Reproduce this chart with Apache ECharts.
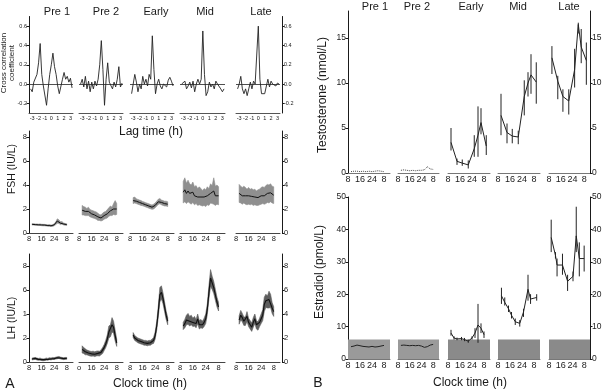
<!DOCTYPE html>
<html><head><meta charset="utf-8">
<script src="https://cdn.jsdelivr.net/npm/echarts@6/dist/echarts.min.js"></script>
<style>html,body{margin:0;padding:0;background:#fff}#c{width:605px;height:392px}</style>
</head><body><div id="c"></div>
<script>
// ---------------- DATA ----------------
const PHASES = ['Pre 1','Pre 2','Early','Mid','Late'];
const LAGS = [-3.25,-3,-2.75,-2.5,-2.25,-2,-1.75,-1.5,-1.25,-1,-0.75,-0.5,-0.25,0,0.25,0.5,0.75,1,1.25,1.5,1.75,2,2.25,2.5,2.75,3,3.25];
const LAG_TICKS = [-3,-2,-1,0,1,2,3];
const LAG_LABELS = ['-3','-2','-1','0','1','2','3'];
const CC_PRE1  = [-0.05,-0.08,0.02,0.03,0.1,0.22,0.42,0.1,-0.02,-0.04,-0.22,-0.05,0.1,0.2,0.32,0.18,0.1,-0.02,-0.1,-0.08,0.05,0.12,0.05,0.08,0.02,0.06,-0.04];
const CC_PRE2  = [0.0,0.05,-0.03,0.08,-0.05,0.03,-0.08,0.02,-0.05,0.03,-0.02,0.05,0.2,0.45,0.15,-0.22,0.05,0.22,0.02,0.0,-0.05,0.02,-0.03,0.05,0.18,-0.03,0.01];
const CC_EARLY = [-0.1,0.0,0.1,0.02,-0.08,0.0,-0.05,0.08,0.0,0.05,-0.02,0.1,0.05,0.5,0.15,-0.1,0.0,0.05,-0.02,-0.05,0.0,0.02,-0.03,0.04,0.07,0.03,-0.02];
const CC_MID   = [0.0,-0.02,0.03,-0.05,-0.02,0.02,-0.04,0.03,-0.08,0.0,0.05,0.0,0.05,0.55,0.1,-0.12,-0.08,0.02,-0.03,0.0,-0.05,0.03,0.0,-0.02,-0.05,-0.08,-0.05];
const CC_LATE  = [-0.05,0.0,0.08,-0.05,-0.1,-0.05,-0.12,-0.05,0.02,-0.05,0.03,0.0,0.02,0.6,0.05,-0.1,-0.12,-0.1,-0.12,0.05,-0.03,0.03,0.0,0.02,-0.02,0.01,0.0];
const CC_TICKS = [-0.2,0,0.2,0.4,0.6];
const CC_LABELS = ['-0.2','0.0','0.2','0.4','0.6'];

const CLOCK_TICKS = [8,16,24,32];
const CLOCK_LABELS = ['8','16','24','8'];
const CLOCK_LABELS_LH_PRE2 = ['o','16','24','8'];
const HOURS = [10,11,12,13,14,15,16,17,18,19,20,21,22,23,24,25,26,27,28,29,30,31,32];

const FSH_MEAN_PRE1 = [0.72,0.72,0.7,0.7,0.68,0.7,0.67,0.66,0.66,0.64,0.62,0.64,0.6,0.62,0.68,0.8,1.0,0.95,0.82,0.85,0.75,0.72,0.7];
const FSH_HW_PRE1   = [0.06,0.06,0.06,0.06,0.06,0.06,0.06,0.06,0.06,0.06,0.06,0.06,0.06,0.07,0.08,0.12,0.18,0.15,0.12,0.1,0.08,0.07,0.07];
const FSH_MEAN_PRE2 = [1.9,1.85,1.8,1.75,1.8,1.65,1.6,1.55,1.5,1.45,1.35,1.3,1.25,1.35,1.45,1.5,1.6,1.75,1.85,1.8,2.0,2.1,2.0];
const FSH_HW_PRE2   = [0.4,0.35,0.35,0.3,0.35,0.3,0.3,0.3,0.3,0.3,0.3,0.25,0.25,0.3,0.3,0.3,0.35,0.35,0.4,0.35,0.45,0.6,0.45];
const FSH_MEAN_EARLY= [2.7,2.75,2.65,2.6,2.55,2.5,2.45,2.4,2.35,2.3,2.25,2.2,2.15,2.2,2.3,2.45,2.6,2.65,2.55,2.5,2.45,2.45,2.4];
const FSH_HW_EARLY  = [0.25,0.25,0.2,0.2,0.2,0.2,0.18,0.18,0.18,0.18,0.18,0.18,0.18,0.2,0.2,0.2,0.22,0.22,0.2,0.2,0.2,0.2,0.2];
const FSH_MEAN_MID  = [3.4,3.6,3.3,3.5,3.3,3.2,3.4,3.1,3.2,3.0,3.1,3.0,2.9,3.0,2.9,3.1,3.0,3.3,3.2,3.5,3.1,3.2,3.1];
const FSH_HW_MID    = [0.9,1.0,0.85,0.9,0.8,0.8,0.85,0.75,0.75,0.7,0.75,0.7,0.65,0.7,0.7,0.75,0.7,0.8,0.75,1.1,0.8,0.8,0.75];
const FSH_MEAN_LATE = [3.3,3.2,3.1,3.2,3.1,3.0,3.1,3.0,3.05,2.95,3.0,2.9,2.95,3.0,3.1,3.15,3.1,3.2,3.3,3.25,3.35,3.2,3.15];
const FSH_HW_LATE   = [0.75,0.7,0.7,0.7,0.7,0.65,0.7,0.65,0.65,0.65,0.65,0.6,0.65,0.65,0.7,0.7,0.7,0.75,0.75,0.75,0.75,0.7,0.7];
const FSH_TICKS = [0,2,4,6,8];
const FSH_LABELS = ['0','2','4','6','8'];

const LH_MEAN_PRE1 = [0.25,0.28,0.3,0.25,0.22,0.25,0.2,0.18,0.2,0.25,0.22,0.28,0.25,0.3,0.28,0.32,0.35,0.38,0.33,0.3,0.28,0.3,0.3];
const LH_HW_PRE1   = [0.08,0.08,0.08,0.08,0.08,0.08,0.08,0.08,0.08,0.08,0.08,0.08,0.08,0.08,0.08,0.08,0.08,0.08,0.08,0.08,0.08,0.08,0.08];
const LH_MEAN_PRE2 = [1.05,0.95,0.85,0.8,0.75,0.7,0.68,0.7,0.65,0.7,0.72,0.7,0.8,0.95,1.2,1.5,1.9,2.5,2.6,3.1,2.9,2.2,1.6];
const LH_HW_PRE2   = [0.3,0.25,0.25,0.2,0.2,0.2,0.2,0.2,0.2,0.2,0.2,0.2,0.2,0.25,0.25,0.3,0.35,0.5,0.5,0.6,0.5,0.45,0.3];
const LH_MEAN_EARLY= [2.25,2.0,1.9,1.8,1.75,1.7,1.65,1.6,1.6,1.55,1.6,1.6,1.7,1.8,2.2,3.0,4.2,5.6,5.8,5.3,4.6,3.9,3.4];
const LH_HW_EARLY  = [0.2,0.2,0.2,0.2,0.2,0.2,0.2,0.2,0.2,0.2,0.2,0.2,0.2,0.25,0.3,0.35,0.45,0.6,0.55,0.45,0.4,0.35,0.3];
const LH_MEAN_MID  = [3.0,3.2,3.5,3.6,3.4,3.5,3.3,3.4,3.2,3.6,3.1,3.2,3.1,3.3,3.6,4.4,5.8,7.0,6.6,6.2,5.6,5.0,4.6];
const LH_HW_MID    = [0.3,0.35,0.4,0.45,0.4,0.4,0.35,0.4,0.35,0.4,0.35,0.35,0.3,0.35,0.4,0.45,0.55,0.7,0.55,0.5,0.45,0.4,0.35];
const LH_MEAN_LATE = [3.5,3.9,3.7,3.4,3.4,3.8,3.3,3.1,2.9,3.3,3.6,3.1,3.0,3.3,3.6,3.9,4.8,5.1,5.0,5.2,5.1,4.5,4.2];
const LH_HW_LATE   = [0.35,0.4,0.35,0.35,0.35,0.4,0.35,0.35,0.35,0.4,0.4,0.35,0.35,0.35,0.4,0.45,0.6,0.55,0.5,0.7,0.55,0.45,0.4];
const LH_TICKS = [0,2,4,6,8];
const LH_LABELS_LEFT = ['0','2','1','6','8'];
const LH_LABELS_RIGHT = ['0','2','4','6','8'];

const T_HOURS_PRE = [10,12,14,16,18,20,22,24,26,28,30,32];
const T_PRE1 = [0.15,0.2,0.2,0.15,0.2,0.15,0.2,0.15,0.2,0.25,0.2,0.15];
const T_PRE2 = [0.3,0.35,0.3,0.25,0.3,0.25,0.3,0.3,0.35,0.7,0.45,0.4];
const T_HOURS = [10,14,17.5,21.5,25.5,28,30,33.5];
const T_EARLY = [3.4,1.3,1.1,0.9,2.7,4.2,5.6,3.0];
const T_EARLY_LOW = [2.5,0.9,0.8,0.5,1.8,1.8,4.3,2.0];
const T_EARLY_HIGH = [5.0,1.6,1.5,1.4,4.2,7.4,7.2,4.2];
const T_MID = [6.4,4.5,4.1,4.0,8.5,10.0,10.9,10.1];
const T_MID_LOW = [4.2,3.3,3.3,3.2,6.4,8.5,8.8,7.7];
const T_MID_HIGH = [8.8,5.5,4.9,4.7,10.3,11.2,13.2,12.3];
const T_LATE = [12.8,10.2,8.5,8.0,11.5,16.5,14.0,12.5];
const T_LATE_LOW = [11.0,8.2,6.8,6.5,9.5,15.5,12.2,9.8];
const T_LATE_HIGH = [14.1,10.8,9.3,9.3,13.8,16.7,16.0,14.5];
const T_TICKS = [0,5,10,15];
const T_LABELS = ['0','5','10','15'];

const E_HOURS_PRE = [10,12,14,16,18,20,22,24,26,28,30,32];
const E_PRE1 = [3.8,4.0,4.3,4.1,3.9,3.8,3.7,3.9,3.7,3.8,4.0,4.2];
const E_PRE2 = [4.2,4.3,4.2,4.1,4.2,4.1,4.2,4.0,3.6,3.8,4.3,4.5];
const E_EARLY_HOURS = [10,12,14,17,19,21.5,24,26,28,30,32];
const E_EARLY = [8.0,6.5,6.2,6.3,6.0,5.5,6.5,8.0,10.5,9.5,7.5];
const E_EARLY_LOW = [7.2,6.0,5.8,5.8,5.5,5.0,6.0,6.5,5.0,8.0,6.5];
const E_EARLY_HIGH = [9.0,7.0,6.6,6.8,6.5,6.0,7.0,9.5,17.0,11.0,8.5];
const E_MID_HOURS = [10.3,12.5,15,17,19.5,22.5,25,28,29.7,33.8];
const E_MID = [19.5,17.5,15.5,13.5,11.5,11,14.5,21.5,18.5,19];
const E_MID_LOW = [17,16.5,14.5,12.5,10.5,10,13,18,17,18];
const E_MID_HIGH = [22,19,16.5,14.5,12.5,12,15.5,26,20,20];
const E_LATE_HOURS = [9.5,12.4,13.5,17.2,20.7,24.4,26.6,28.7,32];
const E_LATE = [37.5,32,29,29,24,25.5,38,31,31];
const E_LATE_LOW = [33,31,25.5,26,21,24,33,25.5,27];
const E_LATE_HIGH = [43,33,31,32.5,26,27,47,36,35];
const E_DETECTION_LIMIT = 6;
const E_TICKS = [0,10,20,30,40,50];
const E_LABELS = ['0','10','20','30','40','50'];

// ---------------- LAYOUT / BUILD ----------------
const FONT = '"Liberation Sans", Arial, Helvetica, sans-serif';
const INK = '#1a1a1a';
const A_X = [[29,73],[79,123],[130,174],[180,225],[236,280]];
const A_RIGHT = 282;
const B_X = [[348,390],[398,439],[448,490],[498,540],[549,590]];
const B_RIGHT = 590;
const CLOCK_MIN = 8, CLOCK_MAX = 36;

const option = {animation:false, backgroundColor:'#fff', grid:[], xAxis:[], yAxis:[], series:[], graphic:[]};

function fmt(ticks, labels){
  return v => { const i = ticks.findIndex(t => Math.abs(t - v) < 1e-9); return i < 0 ? '' : labels[i]; };
}
function addFrame(left, right, top, bottom, ymin, ymax, ticks, labL, labR, fs){
  const gi = option.grid.length;
  option.grid.push({left, top, width:right-left, height:bottom-top});
  option.xAxis.push({gridIndex:gi, type:'value', min:0, max:1, show:false});
  const mk = (pos, labs) => ({gridIndex:gi, type:'value', position:pos, min:ymin, max:ymax,
    axisLine:{show:true, onZero:false, lineStyle:{color:INK, width:1}},
    axisTick:{show:true, length:2.5, customValues:ticks, lineStyle:{color:INK, width:1}},
    axisLabel:{show:true, customValues:ticks, margin:2, fontSize:fs, color:INK, fontFamily:FONT, formatter:fmt(ticks, labs)},
    splitLine:{show:false}});
  option.yAxis.push(mk('left', labL));
  option.yAxis.push(mk('right', labR));
}
function addPanel(lr, top, bottom, ymin, ymax, xmin, xmax, xticks, xlabels, fs, lineColor){
  const gi = option.grid.length;
  option.grid.push({left:lr[0], top, width:lr[1]-lr[0], height:bottom-top});
  const xi = option.xAxis.length, yi = option.yAxis.length;
  option.xAxis.push({gridIndex:gi, type:'value', min:xmin, max:xmax,
    axisLine:{show:true, onZero:false, lineStyle:{color:lineColor||'#444', width:1}},
    axisTick:{show:false},
    axisLabel:{show:true, customValues:xticks, margin:2, fontSize:fs, color:INK, fontFamily:FONT, formatter:fmt(xticks, xlabels)},
    splitLine:{show:false}});
  option.yAxis.push({gridIndex:gi, type:'value', min:ymin, max:ymax, show:false});
  return {xi, yi};
}
function line(ax, xs, ys, style, z){
  option.series.push({type:'line', xAxisIndex:ax.xi, yAxisIndex:ax.yi, symbol:'none', silent:true, z:z||3,
    lineStyle:style, data:xs.map((x,i)=>[x, ys[i]])});
}
function band(ax, xs, mean, hw, color, lineW){
  option.series.push({type:'custom', xAxisIndex:ax.xi, yAxisIndex:ax.yi, silent:true, z:2,
    data:[[xs[0], mean[0]]], encode:{x:0, y:1},
    renderItem:(p, api) => {
      const pts = [];
      xs.forEach((x, i) => pts.push(api.coord([x, mean[i] + hw[i]])));
      for (let i = xs.length - 1; i >= 0; i--) pts.push(api.coord([xs[i], mean[i] - hw[i]]));
      return {type:'polygon', shape:{points:pts}, style:{fill:color, stroke:color, lineWidth:0.6}};
    }});
  line(ax, xs, mean, {color:'#111', width:lineW||1}, 3);
}
function errBars(ax, xs, low, high){
  option.series.push({type:'custom', xAxisIndex:ax.xi, yAxisIndex:ax.yi, silent:true, z:3,
    data:xs.map((x,i)=>[x, low[i], high[i]]), encode:{x:0, y:[1,2]},
    renderItem:(p, api) => {
      const a = api.coord([api.value(0), api.value(1)]);
      const b = api.coord([api.value(0), api.value(2)]);
      return {type:'line', shape:{x1:a[0], y1:a[1], x2:b[0], y2:b[1]}, style:{stroke:'#222', lineWidth:1}};
    }});
}
function box(ax, limit, color){
  option.series.push({type:'custom', xAxisIndex:ax.xi, yAxisIndex:ax.yi, silent:true, z:1,
    data:[[CLOCK_MIN, 0, CLOCK_MAX, limit]], encode:{x:[0,2], y:[1,3]},
    renderItem:(p, api) => {
      const a = api.coord([api.value(0), api.value(1)]);
      const b = api.coord([api.value(2), api.value(3)]);
      return {type:'rect', shape:{x:a[0], y:b[1], width:b[0]-a[0], height:a[1]-b[1]}, style:{fill:color}};
    }});
}

// Row 1: cross correlation
const CC = [CC_PRE1, CC_PRE2, CC_EARLY, CC_MID, CC_LATE];
const ccTop = 16.5, ccBot = 113;
addFrame(A_X[0][0], A_RIGHT, ccTop, ccBot, -0.3, 0.7, CC_TICKS, CC_LABELS, CC_LABELS, 5.5);
CC.forEach((vals, k) => {
  const ax = addPanel(A_X[k], ccTop, ccBot, -0.3, 0.7, -3.5, 3.4, LAG_TICKS, LAG_LABELS, 5.5, '#555');
  option.series.push({type:'line', xAxisIndex:ax.xi, yAxisIndex:ax.yi, symbol:'none', silent:true, z:3,
    lineStyle:{color:'#222', width:0.9}, data:LAGS.map((x,i)=>[x, vals[i]]),
    markLine:{silent:true, symbol:'none', label:{show:false}, lineStyle:{color:'#222', width:0.8, type:'solid'}, data:[{yAxis:0}]}});
});

// Row 2: FSH
const FSH = [[FSH_MEAN_PRE1,FSH_HW_PRE1],[FSH_MEAN_PRE2,FSH_HW_PRE2],[FSH_MEAN_EARLY,FSH_HW_EARLY],[FSH_MEAN_MID,FSH_HW_MID],[FSH_MEAN_LATE,FSH_HW_LATE]];
const fTop = 131, fBot = 233;
addFrame(A_X[0][0], A_RIGHT, fTop, fBot, 0, 8.5, FSH_TICKS, FSH_LABELS, FSH_LABELS, 7.5);
FSH.forEach((d, k) => {
  const ax = addPanel(A_X[k], fTop, fBot, 0, 8.5, CLOCK_MIN, CLOCK_MAX, CLOCK_TICKS, CLOCK_LABELS, 7.5);
  band(ax, HOURS, d[0], d[1], '#8f8f8f', 1);
});

// Row 3: LH
const LH = [[LH_MEAN_PRE1,LH_HW_PRE1],[LH_MEAN_PRE2,LH_HW_PRE2],[LH_MEAN_EARLY,LH_HW_EARLY],[LH_MEAN_MID,LH_HW_MID],[LH_MEAN_LATE,LH_HW_LATE]];
const lTop = 254, lBot = 362;
addFrame(A_X[0][0], A_RIGHT, lTop, lBot, 0, 9, LH_TICKS, LH_LABELS_LEFT, LH_LABELS_RIGHT, 7.5);
LH.forEach((d, k) => {
  const ax = addPanel(A_X[k], lTop, lBot, 0, 9, CLOCK_MIN, CLOCK_MAX, CLOCK_TICKS, k === 1 ? CLOCK_LABELS_LH_PRE2 : CLOCK_LABELS, 7.5);
  band(ax, HOURS, d[0], d[1], '#5e5e5e', 1.1);
});

// Row B1: Testosterone
const tTop = 11, tBot = 173;
addFrame(B_X[0][0], B_RIGHT, tTop, tBot, 0, 18, T_TICKS, T_LABELS, T_LABELS, 8.5);
const tAx = B_X.map(lr => addPanel(lr, tTop, tBot, 0, 18, CLOCK_MIN, CLOCK_MAX, CLOCK_TICKS, CLOCK_LABELS, 9, '#777'));
line(tAx[0], T_HOURS_PRE, T_PRE1, {color:'#444', width:1, type:[1,1]});
line(tAx[1], T_HOURS_PRE, T_PRE2, {color:'#444', width:1, type:[1,1]});
[[T_EARLY,T_EARLY_LOW,T_EARLY_HIGH],[T_MID,T_MID_LOW,T_MID_HIGH],[T_LATE,T_LATE_LOW,T_LATE_HIGH]].forEach((d, j) => {
  const ax = tAx[j + 2];
  line(ax, T_HOURS, d[0], {color:'#222', width:1});
  errBars(ax, T_HOURS, d[1], d[2]);
});

// Row B2: Estradiol
const eTop = 197, eBot = 359;
addFrame(B_X[0][0], B_RIGHT, eTop, eBot, 0, 50, E_TICKS, E_LABELS, E_LABELS, 8.5);
const eAx = B_X.map(lr => addPanel(lr, eTop, eBot, 0, 50, CLOCK_MIN, CLOCK_MAX, CLOCK_TICKS, CLOCK_LABELS, 9, '#777'));
eAx.forEach((ax, k) => box(ax, E_DETECTION_LIMIT, k < 2 ? '#9a9a9a' : '#8a8a8a'));
line(eAx[0], E_HOURS_PRE, E_PRE1, {color:'#222', width:1});
line(eAx[1], E_HOURS_PRE, E_PRE2, {color:'#222', width:1});
line(eAx[2], E_EARLY_HOURS, E_EARLY, {color:'#222', width:1});
errBars(eAx[2], E_EARLY_HOURS, E_EARLY_LOW, E_EARLY_HIGH);
line(eAx[3], E_MID_HOURS, E_MID, {color:'#222', width:1});
errBars(eAx[3], E_MID_HOURS, E_MID_LOW, E_MID_HIGH);
line(eAx[4], E_LATE_HOURS, E_LATE, {color:'#222', width:1});
errBars(eAx[4], E_LATE_HOURS, E_LATE_LOW, E_LATE_HIGH);

// Texts
function txt(x, y, text, fs, rot, lh){
  return {type:'text', x, y, rotation:rot||0, silent:true,
    style:{text, fontSize:fs, fontFamily:FONT, fill:INK, align:'center', verticalAlign:'middle', lineHeight:lh||fs*1.2}};
}
const A_TITLE_X = [57,106,156,205,261];
const B_TITLE_X = [375,417,471,518,569];
PHASES.forEach((p, k) => {
  option.graphic.push(txt(A_TITLE_X[k], 12, p, 11));
  option.graphic.push(txt(B_TITLE_X[k], 7, p, 11));
});
option.graphic.push(txt(151, 132, 'Lag time (h)', 12));
option.graphic.push(txt(150, 384, 'Clock time (h)', 12));
option.graphic.push(txt(470, 383, 'Clock time (h)', 12));
option.graphic.push(txt(10, 384, 'A', 14));
option.graphic.push(txt(318, 383, 'B', 14));
option.graphic.push(txt(8, 63, 'Cross correlation\ncoefficient', 8, Math.PI/2, 8.5));
option.graphic.push(txt(12, 169, 'FSH (IU/L)', 10.5, Math.PI/2));
option.graphic.push(txt(12, 318, 'LH (IU/L)', 10.5, Math.PI/2));
option.graphic.push(txt(323, 95, 'Testosterone (nmol/L)', 12, Math.PI/2));
option.graphic.push(txt(320, 272, 'Estradiol (pmol/L)', 12, Math.PI/2));

const chart = echarts.init(document.getElementById('c'), null, {renderer:'canvas'});
chart.setOption(option);
</script>
</body></html>
